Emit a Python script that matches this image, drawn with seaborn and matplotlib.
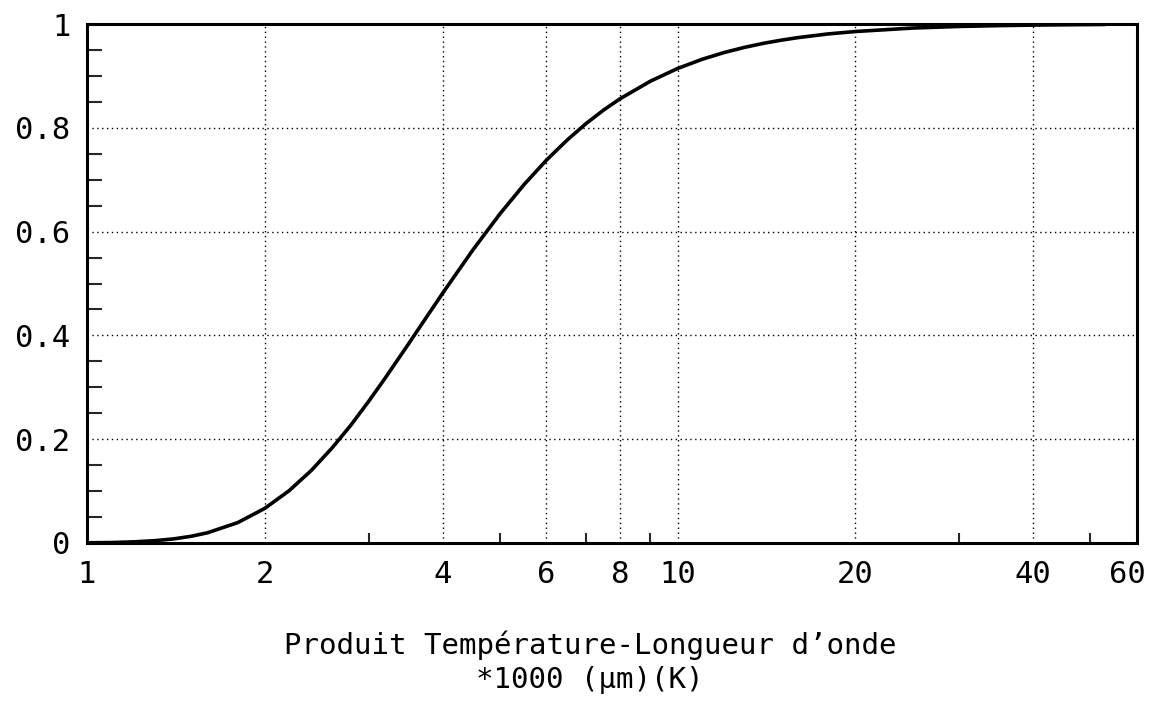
import matplotlib
matplotlib.use("Agg")
import matplotlib.pyplot as plt
from matplotlib.ticker import FixedLocator, FixedFormatter, MultipleLocator, NullFormatter
from matplotlib.transforms import ScaledTranslation
import seaborn as sns
import pandas as pd

# Data (lambda*T in thousands of um.K, blackbody fraction)
lambda_T = [1.0, 1.1, 1.2, 1.3, 1.4, 1.5, 1.6, 1.8, 2.0, 2.2, 2.4, 2.6, 2.8, 3.0,
            3.2, 3.5, 3.8, 4.0, 4.5, 5.0, 5.5, 6.0, 6.5, 7.0, 7.5, 8.0, 9.0,
            10.0, 11.0, 12.0, 13.0, 14.0, 15.0, 16.0, 18.0, 20.0, 25.0, 30.0,
            35.0, 40.0, 46.0, 53.0]
fraction = [0.0004, 0.0009, 0.0022, 0.0044, 0.0078, 0.0129, 0.0197, 0.0393, 0.0667,
            0.1009, 0.1402, 0.1831, 0.2275, 0.2732, 0.3181, 0.3829, 0.4434, 0.4809,
            0.5643, 0.6337, 0.6909, 0.7378, 0.7762, 0.8081, 0.8344, 0.8562, 0.8899,
            0.9142, 0.9319, 0.9451, 0.9551, 0.9629, 0.9689, 0.9738, 0.9809, 0.9855,
            0.9922, 0.9953, 0.9969, 0.9979, 0.9986, 0.9991]

x_major = [1, 2, 4, 6, 8, 10, 20, 40, 60]
x_major_labels = ["1", "2", "4", "6", "8", "10", "20", "40", "60"]
x_minor = [3, 5, 7, 9, 30, 50]
y_major = [0, 0.2, 0.4, 0.6, 0.8, 1]
y_major_labels = ["0", "0.2", "0.4", "0.6", "0.8", "1"]
x_label = "Produit Température-Longueur d\u2019onde\n*1000 (\u03bcm)(K)"

sns.set_style("white")
plt.rcParams["font.family"] = ["DejaVu Sans Mono", "DejaVu Sans"]
plt.rcParams["text.color"] = "black"
plt.rcParams["axes.labelcolor"] = "black"

fig = plt.figure(figsize=(11.53, 7.04), dpi=100)
ax = fig.add_axes([87 / 1153, 1 - 543 / 704, (1137 - 87) / 1153, (543 - 24) / 704])

df = pd.DataFrame({"lt": lambda_T, "f": fraction})
sns.lineplot(data=df, x="lt", y="f", ax=ax, color="black", linewidth=2.6, zorder=5)

ax.set_xscale("log")
ax.set_xlim(1, 60)
ax.set_ylim(0, 1)

ax.xaxis.set_major_locator(FixedLocator(x_major))
ax.xaxis.set_major_formatter(FixedFormatter(x_major_labels))
ax.xaxis.set_minor_locator(FixedLocator(x_minor))
ax.xaxis.set_minor_formatter(NullFormatter())
ax.yaxis.set_major_locator(FixedLocator(y_major))
ax.yaxis.set_major_formatter(FixedFormatter(y_major_labels))
ax.yaxis.set_minor_locator(MultipleLocator(0.05))

ax.tick_params(axis="x", which="major", direction="in", length=0, pad=12, labelsize=22, colors="black")
ax.tick_params(axis="x", which="minor", direction="in", length=7, width=1.5, bottom=True, top=False)
ax.tick_params(axis="y", which="major", direction="in", length=0, pad=12, labelsize=22, colors="black")
ax.tick_params(axis="y", which="minor", direction="in", length=11, width=1.5, left=True, right=False)

ax.grid(True, which="major", color="black", linestyle=(0, (1, 2.5)), linewidth=1.0)

for s in ax.spines.values():
    s.set_visible(True)
    s.set_color("black")
    s.set_linewidth(2.2)

ax.set_xlabel(x_label, fontsize=21, linespacing=1.3, color="black")
ax.xaxis.set_label_coords(0.479, -0.168, transform=ax.transAxes)
ax.xaxis.label.set_verticalalignment("top")
ax.set_ylabel("")

fig.canvas.draw()
last = ax.get_xticklabels()[-1]
last.set_transform(last.get_transform() + ScaledTranslation(-7 / 72, 0, fig.dpi_scale_trans))

fig.savefig("out.png", dpi=100)
